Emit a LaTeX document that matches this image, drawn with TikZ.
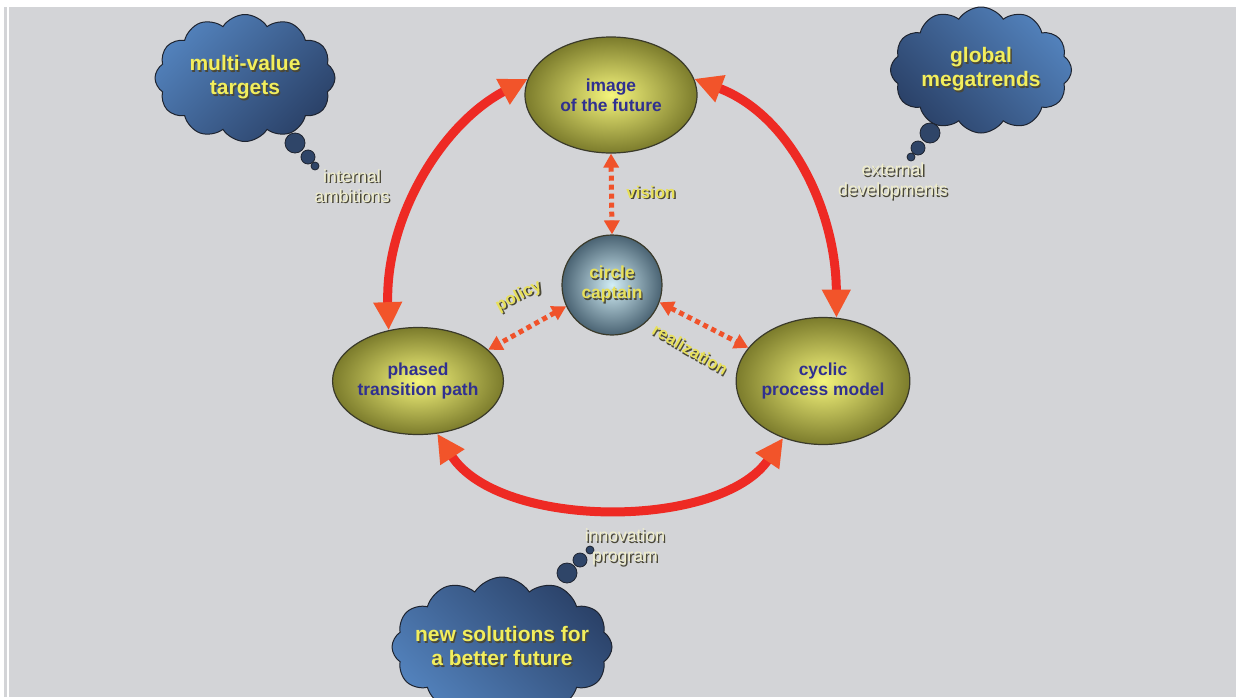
\documentclass[tikz,border=0pt]{standalone}
\usepackage{fontspec}
\setmainfont{Liberation Sans}
\usetikzlibrary{shapes.geometric,shapes.symbols,arrows.meta}

\definecolor{panel}{HTML}{D3D4D7}
\definecolor{flowred}{HTML}{EE2A24}
\definecolor{tipred}{HTML}{F2542A}
\definecolor{dotred}{HTML}{F0522A}
\definecolor{elllight}{HTML}{F4F47C}
\definecolor{elldark}{HTML}{7C7C2C}
\definecolor{ellline}{HTML}{3A3A2A}
\definecolor{caplight}{HTML}{D2EEF6}
\definecolor{capdark}{HTML}{4A6373}
\definecolor{nodetext}{HTML}{303090}
\definecolor{cloudlight}{HTML}{5281BB}
\definecolor{clouddark}{HTML}{2B4269}
\definecolor{cloudline}{HTML}{1E2430}
\definecolor{bubblefill}{HTML}{2F4568}
\definecolor{brightyellow}{HTML}{F2EE5C}
\definecolor{tagyellow}{HTML}{E8E05A}
\definecolor{cream}{HTML}{F0EECC}
\definecolor{shadowdark}{HTML}{4A4838}

% text with a small dark drop shadow
\newcommand\shd[1]{\leavevmode\rlap{\raisebox{-0.7pt}{\hspace{0.7pt}\textcolor{shadowdark}{#1}}}#1}

\begin{document}
\begin{tikzpicture}[x=0.5pt,y=-0.5pt,
  hub/.style={ellipse, draw=ellline, line width=0.6pt,
    inner color=elllight, outer color=elldark, text=nodetext,
    font=\bfseries\fontsize{8.7}{10}\selectfont, align=center, inner sep=0pt},
  captain/.style={circle, draw=ellline, line width=0.6pt,
    inner color=caplight, outer color=capdark, text=tagyellow,
    font=\bfseries\fontsize{8.7}{10}\selectfont, align=center,
    inner sep=0pt, minimum size=50pt},
  thought/.style={cloud, cloud puffs=12, cloud puff arc=115, cloud ignores aspect,
    draw=cloudline, line width=0.5pt, text=brightyellow,
    font=\bfseries\fontsize{10.5}{12}\selectfont, align=center, inner sep=0pt},
  bubble/.style={circle, draw=cloudline, line width=0.4pt,
    fill=bubblefill, inner sep=0pt},
  flow/.style={draw=flowred, line width=4.5pt,
    {Triangle[length=14pt,width=13.5pt,color=tipred]}-{Triangle[length=14pt,width=13.5pt,color=tipred]}},
  link/.style={draw=dotred, line width=2.5pt, dash pattern=on 2.5pt off 2pt,
    {Triangle[length=7pt,width=7.5pt]}-{Triangle[length=7pt,width=7.5pt]}},
  note/.style={text=cream, font=\fontsize{8.8}{10}\selectfont, align=center, inner sep=0pt},
  tag/.style={text=tagyellow, font=\bfseries\fontsize{8.5}{10}\selectfont, inner sep=0pt}
]
\useasboundingbox (0,0) rectangle (1236,697);
\clip (0,0) rectangle (1236,697);

% page and grey panel
\fill[white] (0,0) rectangle (1236,697);
\fill[panel] (4,7) rectangle (7,697);
\fill[panel] (9,7) rectangle (1236,697);

% main stations
\node[hub, minimum width=86pt, minimum height=58pt] (img) at (611,95) {image\\of the future};
\node[hub, minimum width=85pt, minimum height=53.5pt] (phased) at (418,381) {phased\\transition path};
\node[hub, minimum width=85pt, minimum height=63.5pt] (cyclic) at (823,381) {cyclic\\process model};
\node[captain] (cap) at (612,285) {\shd{circle}\\\shd{captain}};

% outer cycle
\draw[flow] (phased.120) .. controls (385,220) and (440,125) .. (img.169);
\draw[flow] (img.11) .. controls (790,115) and (836,210) .. (cyclic.78);
\draw[flow] (phased.290) .. controls (500,530) and (720,530) .. (cyclic.235);

% links to the captain
\draw[link] (img.south) -- (cap.north);
\draw[link] (cap.205) -- (phased.24);
\draw[link] (cap.340) -- (cyclic.156);

\node[tag] (tvision) at (651,193) {\shd{vision}};
\node[tag, rotate=27] (tpolicy) at (519,297) {\shd{policy}};
\node[tag, rotate=-30] (treal) at (690,350) {\shd{realization}};

% thought clouds
\node[thought, shading=axis, top color=cloudlight, bottom color=clouddark, shading angle=45,
  minimum width=90pt, minimum height=63.5pt] (targets) at (245,78) {\shd{multi-value}\\\shd{targets}};
\node[bubble, minimum size=10pt] (tb1) at (295,143) {};
\node[bubble, minimum size=7pt] (tb2) at (308,157) {};
\node[bubble, minimum size=4pt] (tb3) at (315,166) {};

\node[thought, shading=axis, top color=cloudlight, bottom color=clouddark, shading angle=-45,
  minimum width=90.5pt, minimum height=63pt] (trends) at (981,70) {\shd{global}\\\shd{megatrends}};
\node[bubble, minimum size=10pt] (gb1) at (930,133) {};
\node[bubble, minimum size=7pt] (gb2) at (918,148) {};
\node[bubble, minimum size=4pt] (gb3) at (911,157) {};

\node[thought, shading=axis, top color=clouddark, bottom color=cloudlight, shading angle=-45,
  inner sep=-5pt, minimum width=110pt, minimum height=70pt] (solutions) at (502,647) {\shd{new solutions for}\\\shd{a better future}};
\node[bubble, minimum size=10pt] (sb1) at (567,573) {};
\node[bubble, minimum size=7pt] (sb2) at (580,560) {};
\node[bubble, minimum size=4pt] (sb3) at (590,550) {};

% annotations
\node[note] (ambitions) at (352,187) {\shd{internal}\\\shd{ambitions}};
\node[note] (developments) at (893,182) {\shd{external}\\\shd{developments}};
\node[note] (program) at (625,548) {\shd{innovation}\\\shd{program}};
\end{tikzpicture}
\end{document}
